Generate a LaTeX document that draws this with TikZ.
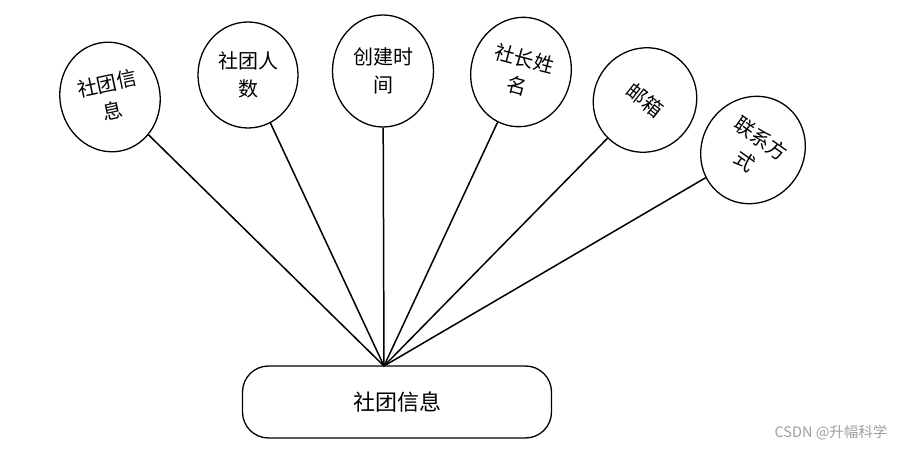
\documentclass[tikz,border=0pt]{standalone}
\usepackage{fontspec}
\newfontfamily\cjk{Noto Sans CJK SC}
\setmainfont{Liberation Sans}
\usetikzlibrary{shapes.geometric}
\begin{document}
\begin{tikzpicture}[x=1pt,y=-1pt,
  attr/.style={draw, ellipse, line width=1.3pt, inner sep=0pt, align=center,
    font=\cjk\fontsize{20}{28}\selectfont},
  ent/.style={draw, rounded corners=26pt, line width=1.3pt, minimum width=309pt,
    minimum height=72pt, font=\cjk\fontsize{22}{26}\selectfont},
  link/.style={line width=1.5pt}]
\useasboundingbox (0,0) rectangle (906,452);
\node[attr, minimum width=100pt, minimum height=110pt, rotate=12] (a1) at (110,97) {社团信\\息};
\node[attr, minimum width=100pt, minimum height=106pt] (a2) at (248,75) {社团人\\数};
\node[attr, minimum width=101pt, minimum height=112pt] (a3) at (383,71) {创建时\\间};
\node[attr, minimum width=100pt, minimum height=110pt, rotate=-15] (a4) at (521,72) {社长姓\\名};
\node[attr, minimum width=102pt, minimum height=106pt, rotate=-38] (a5) at (645,100) {邮箱};
\node[attr, minimum width=102pt, minimum height=110pt, rotate=-35] (a6) at (753,150) {联系方\\式};
\node[ent] (e) at (397,402) {社团信息};
\coordinate (hub) at (384,366);
\foreach \n in {a1,a2,a3,a4,a5,a6} \draw[link] (\n) -- (hub);
\node[text=gray!75, font=\cjk\fontsize{14.5}{16}\selectfont, anchor=east] (wm) at (891,433) {CSDN @升幅科学};
\end{tikzpicture}
\end{document}
